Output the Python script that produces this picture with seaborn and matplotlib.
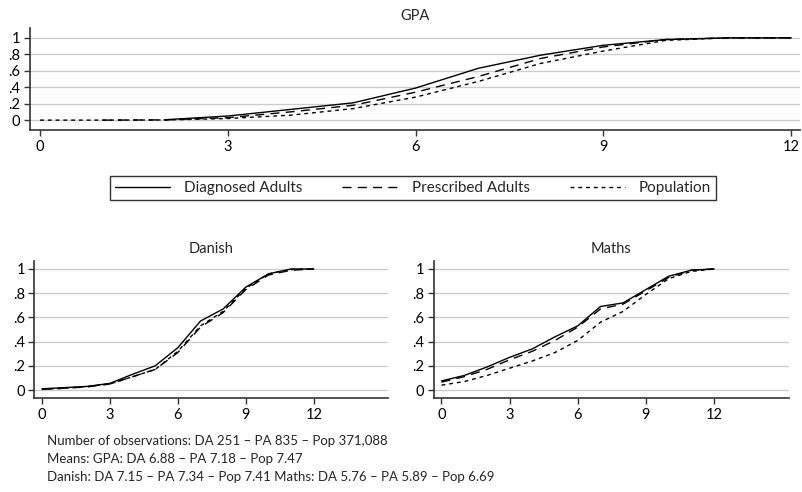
import numpy as np
import pandas as pd
import matplotlib
matplotlib.use("Agg")
import matplotlib.pyplot as plt
import seaborn as sns
from matplotlib.lines import Line2D

# ---- data ----
grades = list(range(13))
series_names = ["Diagnosed Adults", "Prescribed Adults", "Population"]

gpa_da = [np.nan, np.nan, 0.005, 0.05, 0.13, 0.21, 0.39, 0.63, 0.79, 0.91, 0.98, 1.0, 1.0]
gpa_pa = [np.nan, 0.0, 0.003, 0.03, 0.10, 0.18, 0.34, 0.53, 0.75, 0.89, 0.98, 1.0, 1.0]
gpa_pop = [0.0, 0.0, 0.002, 0.02, 0.06, 0.14, 0.28, 0.47, 0.69, 0.84, 0.97, 1.0, 1.0]

dan_da = [0.01, 0.02, 0.03, 0.055, 0.13, 0.20, 0.35, 0.57, 0.67, 0.85, 0.96, 1.0, 1.0]
dan_pa = [0.005, 0.015, 0.025, 0.05, 0.11, 0.17, 0.31, 0.52, 0.64, 0.83, 0.95, 0.99, 1.0]
dan_pop = [0.005, 0.015, 0.03, 0.05, 0.11, 0.17, 0.32, 0.53, 0.65, 0.84, 0.96, 0.995, 1.0]

mat_da = [0.075, 0.12, 0.19, 0.27, 0.34, 0.44, 0.53, 0.69, 0.72, 0.83, 0.94, 0.99, 1.0]
mat_pa = [0.065, 0.11, 0.17, 0.25, 0.32, 0.41, 0.52, 0.67, 0.71, 0.82, 0.93, 0.99, 1.0]
mat_pop = [0.04, 0.07, 0.12, 0.18, 0.24, 0.31, 0.41, 0.56, 0.65, 0.79, 0.92, 0.98, 1.0]

x_ticks = [0, 3, 6, 9, 12]
y_ticks = [0, 0.2, 0.4, 0.6, 0.8, 1.0]
y_tick_labels = ["0", ".2", ".4", ".6", ".8", "1"]

footnote = ["Number of observations: DA 251 \u2013 PA 835 \u2013 Pop 371,088",
            "Means: GPA: DA 6.88 \u2013 PA 7.18 \u2013 Pop 7.47",
            "Danish: DA 7.15 \u2013 PA 7.34 \u2013 Pop 7.41 Maths: DA 5.76 \u2013 PA 5.89 \u2013 Pop 6.69"]


def make_df(da, pa, pop):
    frames = []
    for name, vals in zip(series_names, [da, pa, pop]):
        frames.append(pd.DataFrame({"grade": grades, "share": vals, "group": name}))
    return pd.concat(frames, ignore_index=True).dropna()


sns.set_theme(style="white")
plt.rcParams["font.family"] = ["Lato", "DejaVu Sans"]
plt.rcParams["font.size"] = 10.5
FS = 10.5

fig = plt.figure(figsize=(8.03, 4.92), dpi=100)
ax_gpa = fig.add_axes([30 / 803, 1 - 130 / 492, 770 / 803, 102 / 492])
ax_dan = fig.add_axes([34.5 / 803, 1 - 398 / 492, 354 / 803, 137 / 492])
ax_mat = fig.add_axes([434 / 803, 1 - 398 / 492, 355 / 803, 137 / 492])

DASH = (6.5, 4.5)
DOT = (2.8, 2.8)
dash_map = {"Diagnosed Adults": "", "Prescribed Adults": DASH, "Population": DOT}
palette = {n: "black" for n in series_names}

panels = [
    (ax_gpa, make_df(gpa_da, gpa_pa, gpa_pop), "GPA", (-0.16, 12.14), (-0.12, 1.12)),
    (ax_dan, make_df(dan_da, dan_pa, dan_pop), "Danish", (-0.33, 15.3), (-0.066, 1.066)),
    (ax_mat, make_df(mat_da, mat_pa, mat_pop), "Maths", (-0.33, 15.3), (-0.066, 1.066)),
]

for ax, df, title, xl, yl in panels:
    sns.lineplot(data=df, x="grade", y="share", hue="group", style="group",
                 dashes=dash_map, palette=palette, linewidth=1.0, ax=ax,
                 legend=False, estimator=None, sort=True)
    ax.set_xlim(*xl)
    ax.set_ylim(*yl)
    ax.set_xticks(x_ticks)
    ax.set_xticklabels([str(t) for t in x_ticks])
    ax.set_yticks(y_ticks)
    ax.set_yticklabels(y_tick_labels)
    ax.set_xlabel("")
    ax.set_ylabel("")
    ax.set_title(title, fontsize=FS, pad=6)
    ax.grid(axis="y", color="#cccccc", linewidth=1.0)
    ax.grid(axis="x", visible=False)
    ax.set_axisbelow(True)
    for s in ["top", "right"]:
        ax.spines[s].set_visible(False)
    for s in ["left", "bottom"]:
        ax.spines[s].set_color("#333333")
        ax.spines[s].set_linewidth(1.2)
    ax.tick_params(axis="both", which="major", direction="out", length=4,
                   width=1, color="#333333", labelsize=FS, labelcolor="black",
                   left=True, bottom=True, pad=3)
    ax.patch.set_alpha(0)

# legend
handles = [Line2D([], [], color="black", lw=1.0, linestyle="-"),
           Line2D([], [], color="black", lw=1.0, linestyle=(0, DASH)),
           Line2D([], [], color="black", lw=1.0, linestyle=(0, DOT))]
leg = fig.legend(handles, series_names, loc="center", bbox_to_anchor=(413 / 803, 1 - 188 / 492),
                 ncol=3, frameon=True, fancybox=False, edgecolor="black", fontsize=11,
                 handlelength=3.6, columnspacing=2.6, borderpad=0.3, handletextpad=0.95)
leg.get_frame().set_linewidth(1.0)

for i, line in enumerate(footnote):
    fig.text(47 / 803, 1 - (441 + 18 * i) / 492, line, fontsize=9.5, va="center", ha="left")

fig.savefig("out.png", dpi=100)
